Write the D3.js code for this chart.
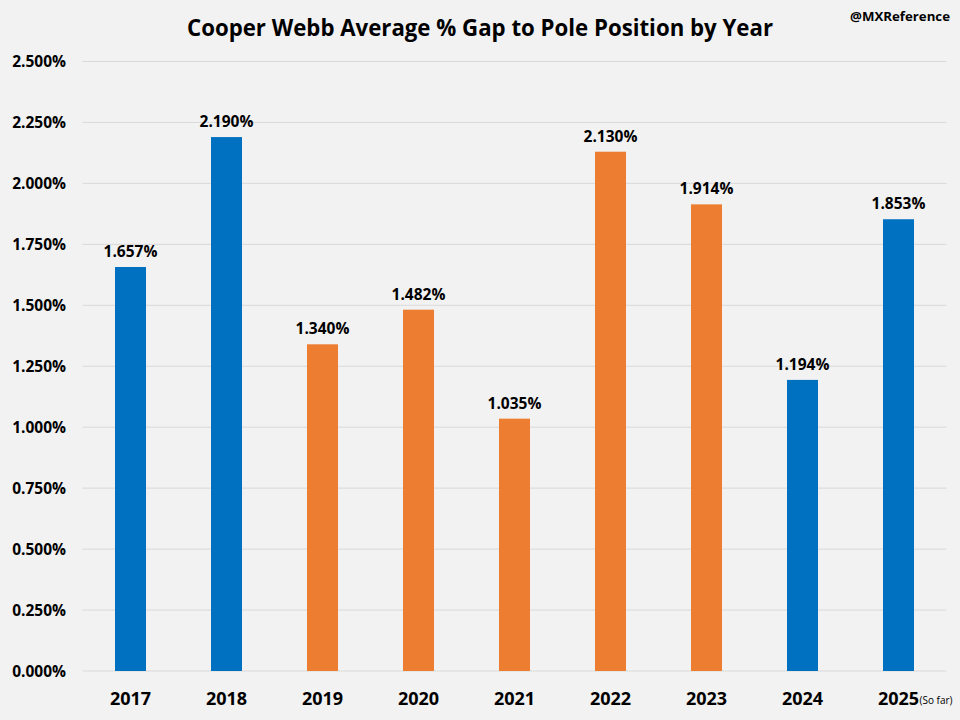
<!DOCTYPE html>
<html>
<head>
<meta charset="utf-8">
<script src="https://cdn.jsdelivr.net/npm/d3@7"></script>
<style>
  html, body { margin: 0; padding: 0; background: #F2F2F2; }
  svg { display: block; }
  text { font-family: "Open Sans", "Noto Sans", sans-serif; fill: #000; }
</style>
</head>
<body>
<svg id="chart" width="960" height="720"></svg>
<script>
const years = ["2017", "2018", "2019", "2020", "2021", "2022", "2023", "2024", "2025"];
const values = [1.657, 2.190, 1.340, 1.482, 1.035, 2.130, 1.914, 1.194, 1.853];
const groups = ["blue", "blue", "orange", "orange", "orange", "orange", "orange", "blue", "blue"];
const yTicks = [0, 0.25, 0.5, 0.75, 1.0, 1.25, 1.5, 1.75, 2.0, 2.25, 2.5];
const titleText = "Cooper Webb Average % Gap to Pole Position by Year";
const creditText = "@MXReference";
const noteText = "(So far)";

const colors = { blue: "#0070C0", orange: "#ED7D31" };

const svg = d3.select("#chart");
const W = 960, H = 720;
svg.append("rect").attr("width", W).attr("height", H).attr("fill", "#F2F2F2");

const plot = { left: 82.5, right: 946.5, top: 61.5, bottom: 671 };

const x = d3.scaleBand().domain(years).range([plot.left, plot.right]).paddingInner(0.677).paddingOuter(0.3385);
const y = d3.scaleLinear().domain([0, 2.5]).range([plot.bottom, plot.top]);

// gridlines
svg.append("g").selectAll("line").data(yTicks).join("line")
  .attr("x1", plot.left).attr("x2", plot.right)
  .attr("y1", d => y(d)).attr("y2", d => y(d))
  .attr("stroke", "#D9D9D9").attr("stroke-width", 1);

// y axis labels
const yAxis = d3.axisLeft(y).tickValues(yTicks).tickFormat(d => d.toFixed(3) + "%").tickSize(0).tickPadding(0);
const yg = svg.append("g").attr("transform", `translate(66,0.5)`).call(yAxis);
yg.select(".domain").remove();
yg.selectAll("text").attr("font-size", 15.5).attr("font-family", "'Open Sans', sans-serif").attr("font-weight", "bold").attr("fill", "#000");

// bars
svg.append("g").selectAll("rect").data(years).join("rect")
  .attr("x", d => x(d))
  .attr("width", x.bandwidth())
  .attr("y", (d, i) => y(values[i]))
  .attr("height", (d, i) => y(0) - y(values[i]))
  .attr("fill", (d, i) => colors[groups[i]]);

// data labels
svg.append("g").selectAll("text").data(years).join("text")
  .attr("x", d => x(d) + x.bandwidth() / 2)
  .attr("y", (d, i) => y(values[i]) - 10)
  .attr("text-anchor", "middle")
  .style("font-size", "15.5px")
  .style("font-weight", "bold")
  .text((d, i) => values[i].toFixed(3) + "%");

// x axis labels
const xAxis = d3.axisBottom(x).tickSize(0).tickPadding(0);
const xg = svg.append("g").attr("transform", `translate(0,${plot.bottom + 21})`).call(xAxis);
xg.select(".domain").remove();
xg.selectAll("text").attr("font-size", 18).attr("font-family", "'Open Sans', sans-serif").attr("font-weight", "bold").attr("fill", "#000");

// (So far) note
svg.append("text")
  .attr("x", x("2025") + x.bandwidth() / 2 + 21)
  .attr("y", 704)
  .style("font-size", "10px")
  .style("font-weight", "normal")
  .text(noteText);

// title
svg.append("text")
  .attr("x", 480).attr("y", 36)
  .attr("text-anchor", "middle")
  .style("font-size", "24px")
  .style("font-weight", "bold")
  .attr("textLength", 586).attr("lengthAdjust", "spacingAndGlyphs")
  .text(titleText);

// credit
svg.append("text")
  .attr("x", 950).attr("y", 21)
  .attr("text-anchor", "end")
  .style("font-size", "12px")
  .style("font-weight", "bold")
  .attr("textLength", 100).attr("lengthAdjust", "spacingAndGlyphs")
  .text(creditText);
</script>
</body>
</html>
